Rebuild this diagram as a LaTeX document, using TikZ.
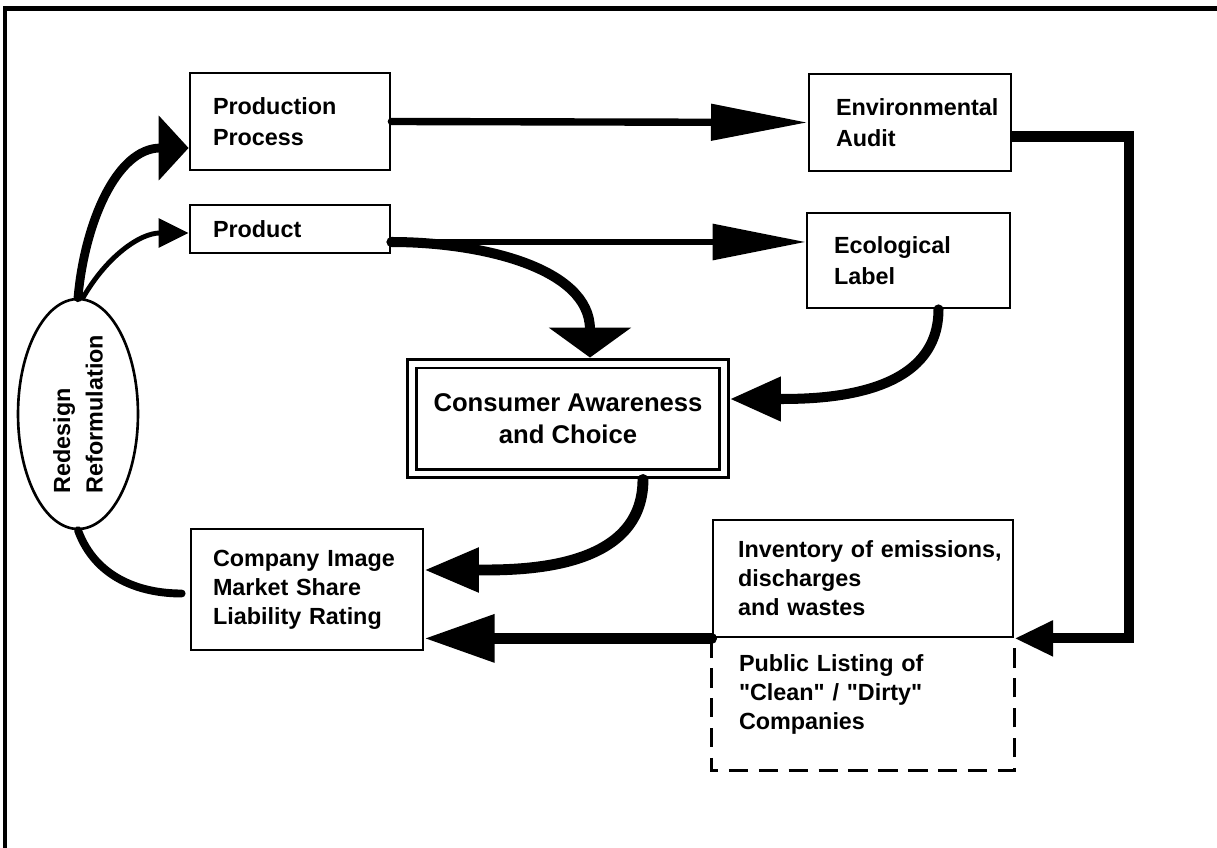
\documentclass[tikz,border=0pt]{standalone}
\usepackage{fontspec}
\setmainfont{Liberation Sans}
\usetikzlibrary{arrows.meta, positioning, calc, shapes.geometric}

\tikzset{
  box/.style={draw, line width=1.6pt, inner xsep=0pt, inner ysep=0pt, align=left,
    font=\bfseries\fontsize{13.3}{18}\selectfont},
  tallbox/.style={box, font=\bfseries\fontsize{13.3}{16.5}\selectfont},
  dashes/.style={line width=1.7pt, dash pattern=on 11pt off 6pt},
  flow/.style={line width=#1, line cap=round},
}

\begin{document}
\begin{tikzpicture}[x=0.02cm, y=-0.02cm]
\useasboundingbox (0,0) rectangle (1217,848);
% frame
\draw[line width=2.6pt] (5,848) -- (5,8.5) -- (1217,8.5);

% boxes
\node[box, minimum width=4cm, minimum height=1.94cm, text width=3.08cm] (production) at (290,121.5) {Production\\Process};
\node[box, minimum width=4cm, minimum height=0.96cm, text width=3.08cm] (product) at (290,229) {Product};
\node[box, minimum width=4.04cm, minimum height=1.94cm, text width=2.96cm] (envaudit) at (910,122.5) {Environmental\\Audit};
\node[box, minimum width=4.06cm, minimum height=1.9cm, text width=2.98cm] (ecolabel) at (908.5,260.5) {Ecological\\Label};
\node[box, double, double distance=3.4pt, line width=1.7pt, outer sep=3.4pt, align=center,
  minimum width=6.24cm, minimum height=2.2cm, font=\bfseries\fontsize{14.6}{18}\selectfont] (consumer) at (568,418.5) {Consumer Awareness\\and Choice};
\node[tallbox, minimum width=4.64cm, minimum height=2.42cm, text width=3.76cm] (company) at (307,589.5) {Company Image\\Market Share\\Liability Rating};
\node[tallbox, minimum width=6cm, minimum height=2.34cm, text width=5cm] (inventory) at (863,578.5) {\mbox{Inventory of emissions,}\\discharges\\and wastes};
\node[tallbox, draw=none, anchor=north, minimum width=6cm, minimum height=2.2cm, text width=4.96cm] (listing) at (inventory.south) {Public Listing of\\\textquotedbl Clean\textquotedbl{} / \textquotedbl Dirty\textquotedbl\\Companies};
\draw[dashes] (listing.north west) -- ++(0,132) -| (listing.north east);
\node[draw, ellipse, line width=1.5pt, rotate=90, inner sep=0pt, minimum width=4.6cm, minimum height=2.4cm,
  align=left, font=\bfseries\fontsize{13.3}{18.5}\selectfont] (redesign) at (78,414) {Redesign\\Reformulation};

% connectors
\draw[flow=4.2pt, -{Triangle[length=55pt, width=20pt]}] (production.east) -- (envaudit.west);
\draw[flow=3.4pt, -{Triangle[length=53pt, width=20pt]}] ([yshift=-0.26cm]product.east) -- ([yshift=-0.26cm]product.east -| ecolabel.west);
\draw[flow=5.7pt, -{Triangle[length=17pt, width=46pt]}] ([yshift=-0.26cm]product.east) to[out=0, in=90] ([xshift=0.44cm]consumer.north);
\draw[flow=5.7pt, -{Triangle[length=29pt, width=24pt]}] ([xshift=0.6cm]ecolabel.south) to[out=-90, in=0] ([yshift=0.39cm]consumer.east);
\draw[flow=5.7pt, line cap=butt, -{Triangle[length=22pt, width=19pt]}] ([yshift=-0.28cm]envaudit.east) -| ([xshift=2.3cm]inventory.south east) -- (inventory.south east);
\draw[flow=6.2pt, -{Triangle[length=31pt, width=24pt]}] ([xshift=1.5cm]consumer.south) to[out=-90, in=0] ([yshift=0.39cm]company.east);
\draw[flow=6.2pt, -{Triangle[length=40pt, width=26pt]}] (inventory.south west) -- (company.east |- inventory.south west);
\draw[flow=4.5pt, shorten <=0.16cm] ([yshift=-0.08cm]company.west) to[out=180, in=-70] (redesign.west);
\draw[flow=5pt, -{Triangle[length=17pt, width=36pt]}] (redesign.east) to[out=85, in=180] ([yshift=-0.53cm]production.west);
\draw[flow=2.8pt, -{Triangle[length=17pt, width=16pt]}] ([xshift=0.1cm]redesign.east) to[out=60, in=180] ([yshift=-0.08cm]product.west);
\end{tikzpicture}
\end{document}
